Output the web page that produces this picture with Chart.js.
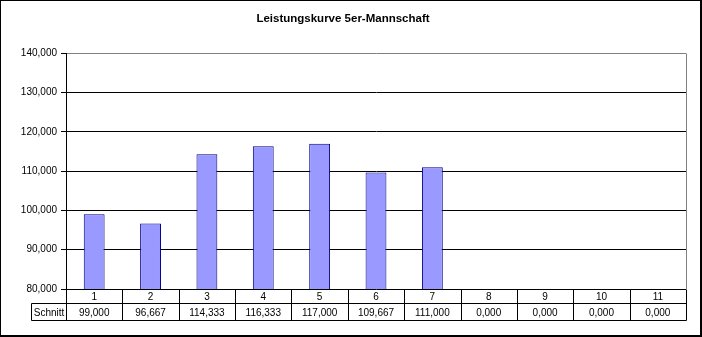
<!DOCTYPE html>
<html>
<head>
<meta charset="utf-8">
<script src="https://cdn.jsdelivr.net/npm/chart.js@4.4.1/dist/chart.umd.min.js"></script>
<style>
  html, body { margin: 0; padding: 0; background: #fff; }
  canvas { display: block; }
</style>
</head>
<body>
<canvas id="leistung" width="702" height="337"></canvas>
<script>
/*===== DATEN =====*/

const runden = ["1", "2", "3", "4", "5", "6", "7", "8", "9", "10", "11"];
const schnitt = [99.000, 96.667, 114.333, 116.333, 117.000, 109.667, 111.000, 0, 0, 0, 0];
const yTicks = [80, 90, 100, 110, 120, 130, 140];
const reihe = "Schnitt";
const titel = "Leistungskurve 5er-Mannschaft";

var fmt = function(v) {
    return v.toFixed(3).replace(".", ",");
};

/*===== DATENTABELLE =====*/

var crisp = function(v) { return Math.round(v) + 0.5; };

const datenTabelle = {
    id: "datenTabelle",
    afterDraw(chart) {
        const ctx = chart.ctx;
        const a = chart.chartArea;
        const x = chart.scales.x;
        const w = x.width / runden.length;
        const top = crisp(a.bottom);
        const mid = top + 14;
        const bottom = mid + 17;
        const labelLeft = 31.5;
        const left = crisp(a.left), right = crisp(a.right);

        ctx.save();
        ctx.strokeStyle = "#000";
        ctx.lineWidth = 1;
        ctx.beginPath();
        // Zeilen
        ctx.moveTo(labelLeft, mid); ctx.lineTo(right, mid);
        ctx.moveTo(labelLeft, bottom); ctx.lineTo(right, bottom);
        ctx.moveTo(labelLeft, mid); ctx.lineTo(labelLeft, bottom);
        // Spalten
        for (let i = 0; i <= runden.length; i++) {
            const px = crisp(x.left + i * w);
            ctx.moveTo(px, top); ctx.lineTo(px, bottom);
        }
        ctx.stroke();

        // grauer Rahmen rechts
        ctx.strokeStyle = "#808080";
        ctx.beginPath();
        ctx.moveTo(right, crisp(a.top)); ctx.lineTo(right, top);
        ctx.stroke();

        ctx.fillStyle = "#000";
        ctx.font = "10px 'Liberation Sans Narrow', 'Liberation Sans', Arial, sans-serif";
        ctx.textAlign = "center";
        ctx.textBaseline = "middle";
        runden.forEach((r, i) => {
            const cx = x.getPixelForValue(i);
            ctx.fillText(r, cx, (top + mid) / 2 + 1);
            ctx.fillText(fmt(schnitt[i]), cx, (mid + bottom) / 2 + 1);
        });
        ctx.fillText(reihe, (labelLeft + left) / 2, (mid + bottom) / 2 + 1);

        // Rahmen um das ganze Diagramm
        ctx.strokeStyle = "#000";
        ctx.lineWidth = 1;
        ctx.strokeRect(0.5, 0.5, chart.width - 2, chart.height - 2);
        ctx.lineWidth = 2;
        ctx.beginPath();
        ctx.moveTo(chart.width - 1, 0); ctx.lineTo(chart.width - 1, chart.height);
        ctx.moveTo(0, chart.height - 1); ctx.lineTo(chart.width, chart.height - 1);
        ctx.stroke();
        ctx.restore();
    }
};

/*===== CHART =====*/

new Chart("leistung", {
    type: "bar",
    data: {
        labels: runden,
        datasets: [{
            label: reihe,
            data: schnitt,
            backgroundColor: "#9999ff",
            borderColor: "#000080",
            borderWidth: 1,
            borderSkipped: false,
            barPercentage: 0.37,
            categoryPercentage: 1,
            clip: 0
        }]
    },
    options: {
        responsive: false,
        animation: false,
        layout: {
            padding: { top: 0, right: 16, bottom: 48, left: 0 }
        },
        plugins: {
            legend: { display: false },
            tooltip: { enabled: false },
            title: {
                display: true,
                text: titel,
                color: "#000",
                font: { family: "'Liberation Sans', Arial, sans-serif", size: 11.5, weight: "bold" },
                padding: { top: 12, bottom: 27.5 }
            }
        },
        scales: {
            x: {
                display: false,
                offset: true
            },
            y: {
                min: yTicks[0],
                max: yTicks[yTicks.length - 1],
                afterBuildTicks: function(s) {
                    s.ticks = yTicks.map(v => ({ value: v }));
                },
                afterFit: function(s) {
                    s.width = 66;
                },
                border: { color: "#000", width: 1 },
                grid: {
                    color: c => (c.tick && c.tick.value === yTicks[yTicks.length - 1]) ? "#808080" : "#000",
                    tickColor: "#000",
                    tickLength: 5
                },
                ticks: {
                    color: "#000",
                    padding: 4,
                    font: { family: "'Liberation Sans', Arial, sans-serif", size: 10 },
                    callback: v => fmt(v)
                }
            }
        }
    },
    plugins: [datenTabelle]
});
</script>
</body>
</html>
